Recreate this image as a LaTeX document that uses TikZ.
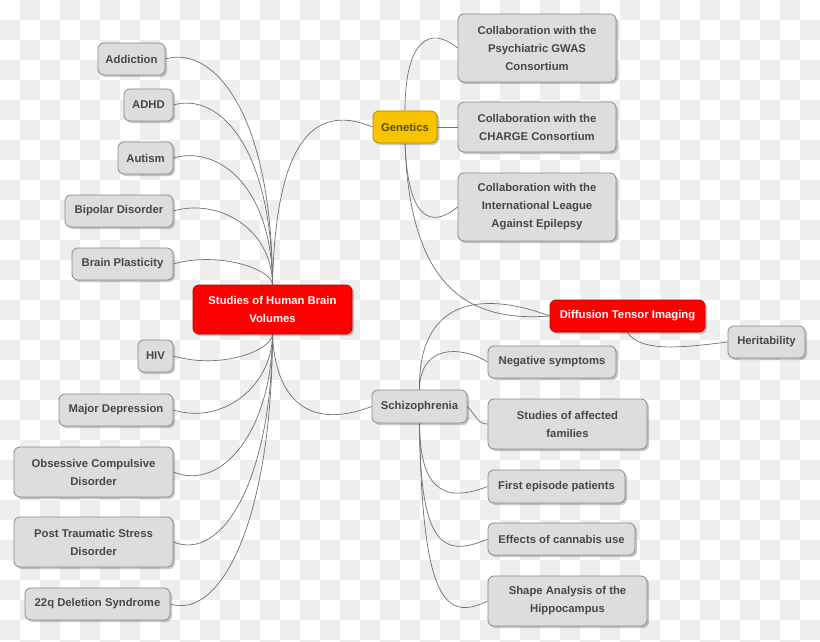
\documentclass[tikz,border=0pt]{standalone}
\usepackage{fontspec}
\setmainfont{Liberation Sans}
\usetikzlibrary{shadows}
\definecolor{boxfill}{HTML}{DDDDDD}
\definecolor{boxline}{HTML}{8A8A8A}
\definecolor{txt}{HTML}{474747}
\definecolor{redfill}{HTML}{FF0000}
\definecolor{redline}{HTML}{B80000}
\definecolor{yelfill}{HTML}{F8C400}
\definecolor{yelline}{HTML}{B08A00}
\definecolor{yeltxt}{HTML}{5A4A10}
\definecolor{wire}{HTML}{707070}
\definecolor{checker}{HTML}{EEEEEE}
\pgfdeclarelayer{paper}
\pgfdeclarelayer{bg}
\pgfsetlayers{paper,bg,main}
\tikzset{
  box/.style={draw=boxline, fill=boxfill, rounded corners=6pt, line width=0.8pt,
    font=\fontsize{11.3}{18}\selectfont\bfseries, text=txt, align=center, inner sep=0pt,
    drop shadow={shadow xshift=2pt, shadow yshift=-2pt, opacity=0.3, fill=black!70}},
  redbox/.style={box, fill=redfill, draw=redline, text=white},
  yelbox/.style={box, fill=yelfill, draw=yelline, text=yeltxt},
  wirestyle/.style={draw=wire, line width=0.7pt},
}
\begin{document}
\begin{tikzpicture}[x=1pt,y=-1pt]
\useasboundingbox (0,0) rectangle (820,642);
\begin{pgfonlayer}{paper}
\fill[white] (0,0) rectangle (820,642);
\foreach \i in {0,...,40}{\foreach \j in {0,...,32}{%
  \pgfmathtruncatemacro\r{mod(\i+\j,2)}%
  \ifnum\r=1 \fill[checker] (\i*20,\j*20) rectangle ++(20,20);\fi}}
\end{pgfonlayer}

% nodes
\node[box, minimum width=67pt, minimum height=32pt] (addiction) at (131.5,59) {Addiction};
\node[box, minimum width=49pt, minimum height=32pt] (adhd) at (148.5,105) {ADHD};
\node[box, minimum width=55pt, minimum height=32pt] (autism) at (145.5,158) {Autism};
\node[box, minimum width=108pt, minimum height=32pt] (bipolar) at (119,211) {Bipolar Disorder};
\node[box, minimum width=101pt, minimum height=32pt] (plasticity) at (122.5,264) {Brain Plasticity};
\node[redbox, minimum width=159pt, minimum height=49pt] (root) at (272.5,309.5) {Studies of Human Brain\\Volumes};
\node[box, minimum width=35pt, minimum height=32pt] (hiv) at (155.5,356) {HIV};
\node[box, minimum width=114pt, minimum height=32pt] (depression) at (116,410) {Major Depression};
\node[box, minimum width=159pt, minimum height=50pt] (ocd) at (93.5,472) {Obsessive Compulsive\\Disorder};
\node[box, minimum width=159pt, minimum height=50pt] (ptsd) at (93.5,542) {Post Traumatic Stress\\Disorder};
\node[box, minimum width=145pt, minimum height=32pt] (del22) at (97.5,604) {22q Deletion Syndrome};
\node[yelbox, minimum width=64pt, minimum height=32pt] (genetics) at (405,127) {Genetics};
\node[box, minimum width=158pt, minimum height=68pt] (gwas) at (537,48) {Collaboration with the\\Psychiatric GWAS\\Consortium};
\node[box, minimum width=158pt, minimum height=50pt] (charge) at (537,127) {Collaboration with the\\CHARGE Consortium};
\node[box, minimum width=158pt, minimum height=68pt] (ilae) at (537,207) {Collaboration with the\\International League\\Against Epilepsy};
\node[redbox, minimum width=155pt, minimum height=32pt] (dti) at (627.5,316) {Diffusion Tensor Imaging};
\node[box, minimum width=77pt, minimum height=32pt] (herit) at (766.5,342) {Heritability};
\node[box, minimum width=95pt, minimum height=33pt] (schizo) at (419.5,406.5) {Schizophrenia};
\node[box, minimum width=128pt, minimum height=32pt] (negative) at (552,362) {Negative symptoms};
\node[box, minimum width=159pt, minimum height=50pt] (families) at (567.5,424) {Studies of affected\\families};
\node[box, minimum width=137pt, minimum height=33pt] (firstep) at (556.5,486.5) {First episode patients};
\node[box, minimum width=147pt, minimum height=32pt] (cannabis) at (561.5,539) {Effects of cannabis use};
\node[box, minimum width=159pt, minimum height=50pt] (shape) at (567.5,601) {Shape Analysis of the\\Hippocampus};

% connectors
\begin{pgfonlayer}{bg}
\path[wirestyle] (addiction.east) .. controls (211,45) and (272,108) .. (root.north);
\path[wirestyle] (adhd.east) .. controls (218,92) and (272,145) .. (root.north);
\path[wirestyle] (autism.east) .. controls (218,145) and (272,186) .. (root.north);
\path[wirestyle] (bipolar.east) .. controls (218,198) and (272,228) .. (root.north);
\path[wirestyle] (plasticity.east) .. controls (218,251) and (272,269) .. (root.north);
\path[wirestyle] (hiv.east) .. controls (222,370) and (272,350) .. (root.south);
\path[wirestyle] (depression.east) .. controls (222,425) and (272,387) .. (root.south);
\path[wirestyle] (ocd.east) .. controls (222,492) and (272,430) .. (root.south);
\path[wirestyle] (ptsd.east) .. controls (222,562) and (272,480) .. (root.south);
\path[wirestyle] (del22.east) .. controls (221,620) and (272,520) .. (root.south);
\path[wirestyle] (root.north) .. controls (276,130) and (320,105) .. (genetics.west);
\path[wirestyle] (root.south) .. controls (275,395) and (305,432) .. (schizo.west);
\path[wirestyle] (genetics.north) .. controls (405,40) and (430,25) .. (gwas.west);
\path[wirestyle] (genetics.east) -- (charge.west);
\path[wirestyle] (genetics.south) .. controls (408,222) and (432,228) .. (ilae.west);
\path[wirestyle] (genetics.south) .. controls (410,290) and (470,322) .. (dti.west);
\path[wirestyle] (schizo.north) .. controls (418,300) and (480,290) .. (dti.west);
\path[wirestyle] (dti.south) .. controls (640,352) and (680,348) .. (herit.west);
\path[wirestyle] (schizo.north) .. controls (420,345) and (460,345) .. (negative.west);
\path[wirestyle] (schizo.east) .. controls (478,418) and (478,424) .. (families.west);
\path[wirestyle] (schizo.south) .. controls (420,485) and (440,505) .. (firstep.west);
\path[wirestyle] (schizo.south) .. controls (420,540) and (440,560) .. (cannabis.west);
\path[wirestyle] (schizo.south) .. controls (422,600) and (445,622) .. (shape.west);
\end{pgfonlayer}
\end{tikzpicture}
\end{document}
